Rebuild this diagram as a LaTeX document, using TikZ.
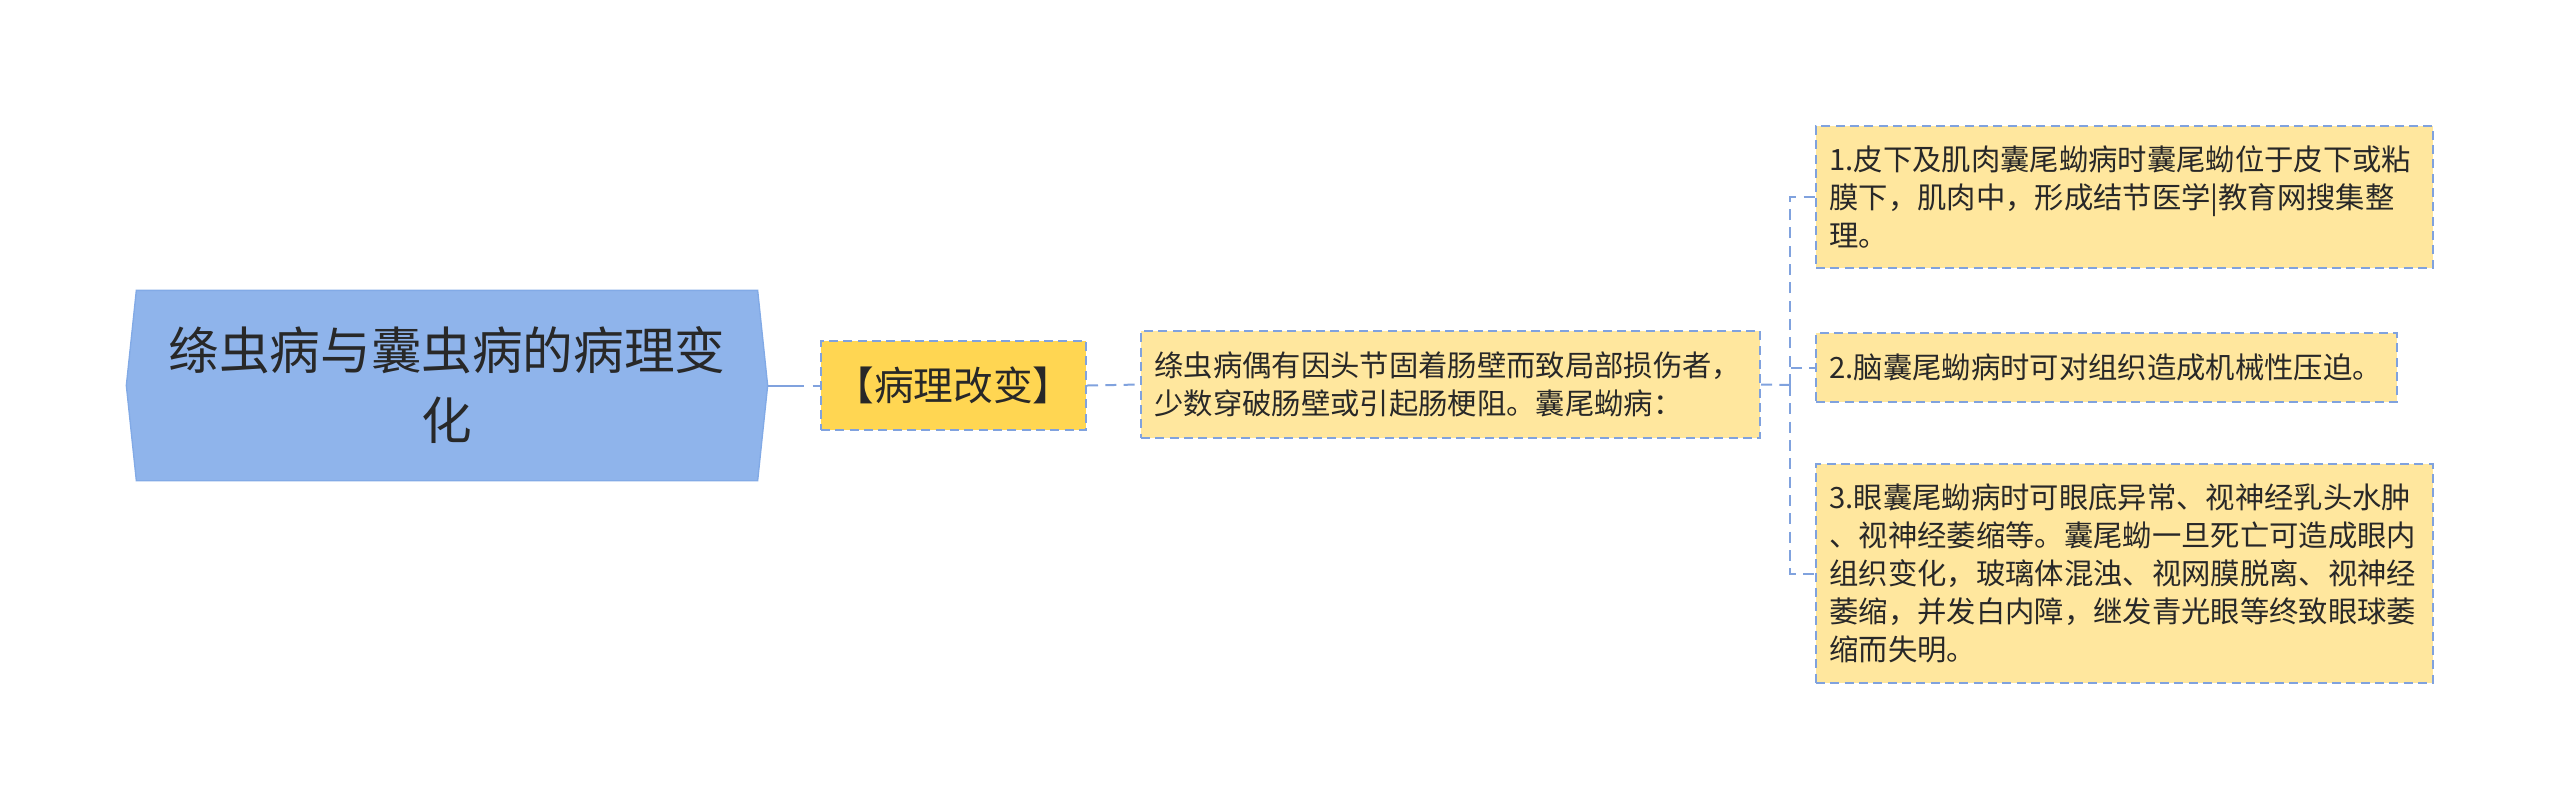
\documentclass[tikz,border=0pt]{standalone}
\usepackage{fontspec}
\newfontfamily\cjk{Noto Sans CJK SC}
\usetikzlibrary{positioning,backgrounds}

\definecolor{rootblue}{RGB}{143,180,235}
\definecolor{rootline}{RGB}{130,170,230}
\definecolor{topicgold}{RGB}{255,214,82}
\definecolor{leafyellow}{RGB}{255,231,158}
\definecolor{edgeblue}{RGB}{128,162,222}
\definecolor{ink}{RGB}{40,40,40}

\begin{document}
\begin{tikzpicture}[x=0.3pt, y=-0.3pt,
  every box/.style={draw=edgeblue, line width=0.6pt, dash pattern=on 2.7pt off 1.6pt,
    text=ink, inner xsep=4pt, inner ysep=2pt, font=\cjk\fontsize{8.8pt}{11.4pt}\selectfont},
  leaf/.style={every box, fill=leafyellow, align=left},
  link/.style={draw=edgeblue, line width=0.6pt, dash pattern=on 3.3pt off 2.2pt}]

\useasboundingbox (0,0) rectangle (2560,809);

\node [text=ink, align=center, text width=180pt, minimum width=192pt, minimum height=56.7pt,
  font=\cjk\fontsize{15.2pt}{21pt}\selectfont] (root) at (447,385.5)
  {绦虫病与囊虫病的病理变\\化};

\begin{scope}[on background layer]
\filldraw [fill=rootblue, draw=rootline, line width=0.4pt]
  ([xshift=3pt]root.north west) -- ([xshift=-3pt]root.north east) -- (root.east)
  -- ([xshift=-3pt]root.south east) -- ([xshift=3pt]root.south west) -- (root.west) -- cycle;
\end{scope}

\node [every box, fill=topicgold, minimum width=79.5pt, minimum height=26.7pt,
  font=\cjk\fontsize{11.9pt}{14pt}\selectfont] (topic) at (953.5,385.5) {【病理改变】};

\node [leaf, text width=177.7pt, minimum height=32.1pt] (detail) at (1450.5,384.5)
  {绦虫病偶有因头节固着肠壁而致局部损伤者，\\少数穿破肠壁或引起肠梗阻。囊尾蚴病：};

\node [leaf, text width=177.1pt, minimum height=42.6pt] (leaf-1) at (2124.5,197)
  {1.皮下及肌肉囊尾蚴病时囊尾蚴位于皮下或粘\\膜下，肌肉中，形成结节医学|教育网搜集整\\理。};

\node [leaf, text width=166.3pt, minimum height=20.7pt] (leaf-2) at (2106.5,367.5)
  {2.脑囊尾蚴病时可对组织造成机械性压迫。};

\node [leaf, text width=177.1pt, minimum height=65.7pt] (leaf-3) at (2124.5,573.5)
  {3.眼囊尾蚴病时可眼底异常、视神经乳头水肿\\、视神经萎缩等。囊尾蚴一旦死亡可造成眼内\\组织变化，玻璃体混浊、视网膜脱离、视神经\\萎缩，并发白内障，继发青光眼等终致眼球萎\\缩而失明。};

\coordinate (fork) at (1790,385);

\draw [link, dash pattern=on 10.8pt off 2.7pt on 3pt off 2pt] (root.east) -- (topic.west);
\draw [link] (topic.east) -- (detail.west);
\draw [link] (detail.east) -- (fork);

\foreach \i in {1,...,3}
  \draw [link] (fork) |- (leaf-\i.west);

\end{tikzpicture}
\end{document}
